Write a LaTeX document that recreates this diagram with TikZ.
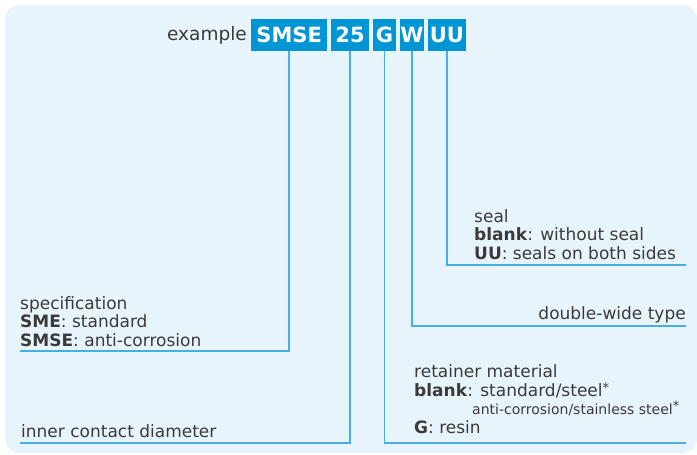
\documentclass[tikz,border=0pt]{standalone}
\usepackage{fontspec}
\setmainfont{DejaVu Sans}
\usetikzlibrary{positioning}
\definecolor{panelbg}{HTML}{E8F4FB}
\definecolor{codeblue}{HTML}{0096D6}
\definecolor{leadblue}{HTML}{45AEE3}
\definecolor{labelgray}{HTML}{3A3A3A}
\newcommand{\noteast}{\raisebox{4pt}{\fontsize{13}{13}\selectfont *}}

\begin{document}
\begin{tikzpicture}[
  x=1pt, y=-1pt,
  node distance=3.5pt,
  codebox/.style={fill=codeblue, text=white, font=\fontsize{21}{21}\selectfont\bfseries, minimum height=32pt, inner sep=0pt},
  partlabel/.style={text=labelgray, font=\fontsize{17}{18.5}\selectfont, align=left, inner sep=0pt, anchor=base west},
  leadline/.style={draw=leadblue, line width=1.6pt}
]
\useasboundingbox (0,0) rectangle (697,455);
\fill[panelbg, rounded corners=14pt] (5,5) rectangle (697,453);

% code boxes
\node[text=labelgray, font=\fontsize{18.5}{18.5}\selectfont, anchor=base east, inner sep=0pt] (ex) at (247,40) {example};
\node[codebox, minimum width=76pt, anchor=north west] (smse) at (251,19) {SMSE};
\node[codebox, minimum width=38pt, right=of smse] (dia) {25};
\node[codebox, minimum width=23pt, right=of dia] (ret) {G};
\node[codebox, minimum width=24pt, right=of ret] (wide) {W};
\node[codebox, minimum width=38pt, right=of wide] (seal) {UU};

% explanations (base = last line)
\node[partlabel] (spectext) at (20,346) {specification\\\textbf{SME}: standard\\\textbf{SMSE}: anti-corrosion};
\node[partlabel] (diatext) at (21,437) {inner contact diameter};
\node[partlabel] (rettext) at (414,433) {retainer material\\\textbf{blank}: standard/steel\noteast\\\hspace*{58pt}{\fontsize{14}{18.5}\selectfont anti-corrosion/stainless steel\noteast}\\\textbf{G}: resin};
\node[partlabel, anchor=base east] (widetext) at (686,319) {double-wide type};
\node[partlabel] (sealtext) at (474,259) {seal\\\textbf{blank}: without seal\\\textbf{UU}: seals on both sides};

% lead lines
\coordinate (specend) at (20,351);
\coordinate (diaend) at (20,443);
\coordinate (retend) at (686,443);
\coordinate (wideend) at (686,326);
\coordinate (sealend) at (686,265);
\draw[leadline] (smse.south) |- (specend);
\draw[leadline] (dia.south) |- (diaend);
\draw[leadline] (ret.south) |- (retend);
\draw[leadline] (wide.south) |- (wideend);
\draw[leadline] (seal.south) |- (sealend);
\end{tikzpicture}
\end{document}
